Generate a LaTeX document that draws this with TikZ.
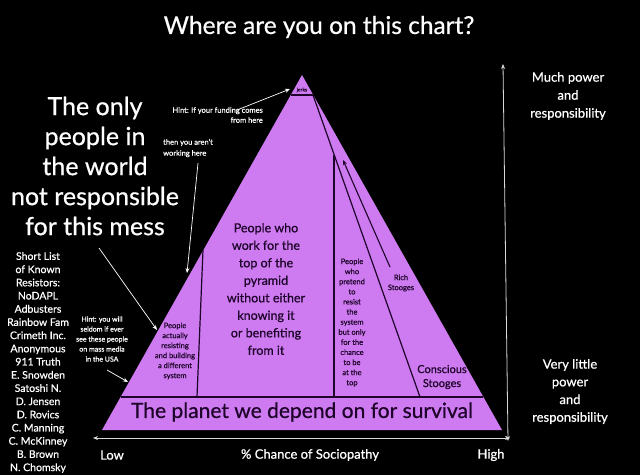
\documentclass[tikz,border=0pt]{standalone}
\usepackage{fontspec}
\setmainfont{Lato}[FakeBold=0.6]
\usetikzlibrary{arrows.meta}
\definecolor{pyr}{RGB}{206,122,240}
\definecolor{ink}{RGB}{30,4,42}
\newcommand{\fs}[2]{\fontsize{#1}{#2}\selectfont}
\begin{document}
\begin{tikzpicture}[x=1pt,y=-1pt,
  wt/.style={text=white, align=center, inner sep=0pt},
  dk/.style={text=ink, align=center, inner sep=0pt},
  arr/.style={draw=white, line width=0.7pt, -{Stealth[length=5pt,width=4pt]}},
  dbl/.style={draw=white!85!black, line width=0.8pt, {Stealth[length=5pt,width=4pt]}-{Stealth[length=5pt,width=4pt]}},
  div/.style={draw=ink, line width=1.2pt}]
\fill[black] (0,0) rectangle (640,475);
\useasboundingbox (0,0) rectangle (640,475);

% pyramid
\coordinate (apex) at (302,75);
\coordinate (bl) at (102,430);
\coordinate (br) at (502,430);
\fill[pyr] (apex) -- (bl) -- (br) -- cycle;
\coordinate (jl) at (291,95);
\coordinate (jr) at (313,95);
\coordinate (bandl) at (120.6,397);
\coordinate (bandr) at (483.4,397);
\coordinate (v1t) at (203,250);
\coordinate (v1b) at (197,397);
\coordinate (v2t) at (334,155);
\coordinate (v2b) at (334,397);
\coordinate (dgb) at (420,397);
\draw[div] (jl) -- (jr);
\draw[div] (bandl) -- (bandr);
\draw[div] (v1t) -- (v1b);
\draw[div] (v2t) -- (v2b);
\draw[div] (jr) -- (dgb);
\coordinate (rs1) at (390,267);
\coordinate (rs2) at (343,160);
\draw[draw=ink, line width=1.1pt, -{Stealth[length=5pt,width=4pt]}] (rs1) -- (rs2);

% axes
\coordinate (ht) at (503,64);
\coordinate (hb) at (508,441);
\draw[dbl] (hb) -- (ht);
\coordinate (al) at (93,438);
\coordinate (ar) at (510,438);
\draw[dbl] (al) -- (ar);

% texts
\node[wt, font=\fs{24.5}{28}] (title) at (319,27) {Where are you on this chart?};
\node[wt, font=\fs{25}{30}] (only) at (95,166) {The only\\people in\\the world\\not responsible\\for this mess};
\node[wt, font=\fs{10.5}{13.2}] (list) at (38,362.5) {Short List\\of Known\\Resistors:\\NoDAPL\\Adbusters\\Rainbow Fam\\Crimeth Inc.\\Anonymous\\911 Truth\\E. Snowden\\Satoshi N.\\D. Jensen\\D. Rovics\\C. Manning\\C. McKinney\\B. Brown\\N. Chomsky};
\node[wt, font=\fs{7}{10}] (seldom) at (102,339) {Hint: you will\\seldom if ever\\see these people\\on mass media\\in the USA};
\node[wt, font=\fs{7.5}{10}, align=right, anchor=east] (fund) at (263,115) {Hint: If your funding comes\\from here};
\node[wt, font=\fs{7.5}{11}, align=left, anchor=west] (notwork) at (163,148) {then you aren't\\working here};
\node[wt, font=\fs{13}{18}] (much) at (568,96) {Much power\\and\\responsibility};
\node[wt, font=\fs{13}{17.7}] (little) at (570,391.5) {Very little\\power\\and\\responsibility};
\node[wt, font=\fs{13}{16}] (low) at (112,455) {Low};
\node[wt, font=\fs{13}{16}] (soc) at (310,455) {\% Chance of Sociopathy};
\node[wt, font=\fs{13}{16}] (high) at (491,455) {High};

\node[dk, font=\fs{5}{6}] (jerks) at (302,90) {jerks};
\node[dk, font=\fs{7.5}{10}] (resist) at (175,351) {People\\actually\\resisting\\and building\\a different\\system};
\node[dk, font=\fs{12.5}{17.5}] (work) at (266,289) {People who\\work for the\\top of the\\pyramid\\without either\\knowing it\\or benefiting\\from it};
\node[dk, font=\fs{7.5}{10.1}] (pretend) at (352,322.5) {People\\who\\pretend\\to\\resist\\the\\system\\but only\\for the\\chance\\to be\\at the\\top};
\node[dk, font=\fs{7.5}{10}] (rich) at (401,283) {Rich\\Stooges};
\node[dk, font=\fs{11}{14}] (consc) at (442,377) {Conscious\\Stooges};
\node[dk, font=\fs{21}{24}] (planet) at (302,412) {The planet we depend on for survival};

% hint arrows
\coordinate (a1s) at (99,248);
\coordinate (a1e) at (157,330);
\draw[arr] (a1s) -- (a1e);
\coordinate (a2s) at (107,370);
\coordinate (a2e) at (128,382);
\draw[arr] (a2s) -- (a2e);
\coordinate (a3s) at (198,163);
\coordinate (a3e) at (187,273);
\draw[arr] (a3s) -- (a3e);
\coordinate (a4s) at (237,110);
\coordinate (a4e) at (290,89);
\draw[arr] (a4s) -- (a4e);
\end{tikzpicture}
\end{document}
